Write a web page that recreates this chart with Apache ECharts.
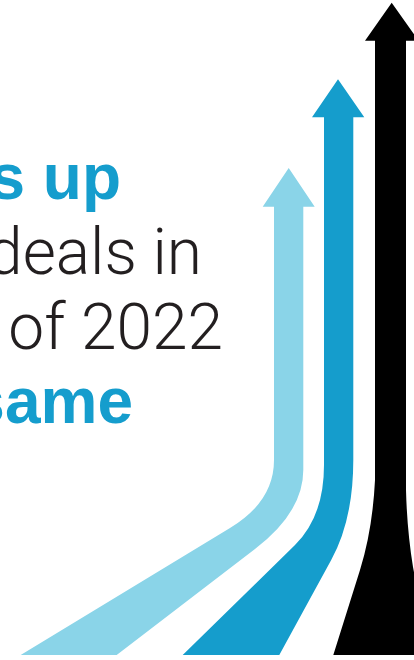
<!DOCTYPE html>
<html>
<head>
<meta charset="utf-8">
<script src="https://cdn.jsdelivr.net/npm/echarts@6/dist/echarts.min.js"></script>
<style>
html,body{margin:0;padding:0;background:#fff;}
#chart{width:414px;height:660px;}
</style>
</head>
<body>
<div id="chart"></div>
<script>
// Text lines (visible portion, right-aligned)
const textLines = ['s up', 'deals in', 'of 2022', 'same'];
const textBold = [true, false, false, true];

// Arrow outlines (path segments in chart units: x 0..414, y 0..660 top-down)
const lightArrow = [
  ['M', 288.7, 168], ['L', 314.7, 206.7], ['L', 303.3, 206.7], ['L', 303.3, 470],
  ['Q', 303.3, 512, 255, 549], ['L', 116.7, 655], ['L', 20.7, 655], ['L', 230, 528],
  ['Q', 274, 501.5, 274, 460], ['L', 274, 206.7], ['L', 262.7, 206.7], ['Z']
];
const midArrow = [
  ['M', 338, 79.3], ['L', 364.3, 117.3], ['L', 353.3, 117.3], ['L', 353.3, 460],
  ['Q', 353.3, 519.7, 331.2, 560], ['L', 279.3, 655], ['L', 182.7, 655], ['L', 295, 545],
  ['Q', 324, 516.4, 324, 465], ['L', 324, 117.3], ['L', 312, 117.3], ['Z']
];
const darkArrow = [
  ['M', 391.7, 2.7], ['L', 418.5, 40.7], ['L', 406, 40.7], ['L', 406, 490],
  ['Q', 407, 530, 413, 567], ['L', 430, 655], ['L', 333.3, 655], ['L', 360, 570],
  ['Q', 372.5, 530, 375, 480], ['L', 375, 40.7], ['L', 365, 40.7], ['Z']
];
const arrows = [lightArrow, midArrow, darkArrow];
const arrowColors = ['#8AD4E8', '#159DCC', '#000000'];

const chart = echarts.init(document.getElementById('chart'), null, {renderer: 'svg'});

function toPath(api, segs) {
  let d = '';
  segs.forEach(s => {
    const c = s[0];
    if (c === 'Z') { d += 'Z'; return; }
    const pts = [];
    for (let i = 1; i < s.length; i += 2) {
      const p = api.coord([s[i], s[i + 1]]);
      pts.push(p[0].toFixed(2) + ' ' + p[1].toFixed(2));
    }
    d += c + pts.join(' ');
  });
  return d;
}

const series = arrows.map((a, idx) => ({
  type: 'custom',
  coordinateSystem: 'cartesian2d',
  data: [[0, 0]],
  silent: true,
  renderItem: function (params, api) {
    return {
      type: 'path',
      shape: { pathData: toPath(api, a) },
      style: { fill: arrowColors[idx], stroke: null }
    };
  }
}));

const baselines = [203.3, 278, 353, 426.7];
const rightEdges = [121, 202, 223, 133];

const graphics = textLines.map((t, i) => ({
  type: 'text',
  right: 414 - rightEdges[i],
  top: baselines[i] - 58,
  style: {
    text: t,
    font: (textBold[i] ? 'bold ' : '300 ') + '64px ' + (textBold[i] ? '"Liberation Sans", Arial, sans-serif' : 'Roboto, "Liberation Sans", sans-serif'),
    fill: textBold[i] ? '#159DCD' : '#231F20'
  }
}));

chart.setOption({
  animation: false,
  grid: { left: 0, right: 0, top: 0, bottom: 0 },
  xAxis: { type: 'value', min: 0, max: 414, show: false },
  yAxis: { type: 'value', min: 0, max: 660, inverse: true, show: false },
  series: series,
  graphic: graphics
});
</script>
</body>
</html>
